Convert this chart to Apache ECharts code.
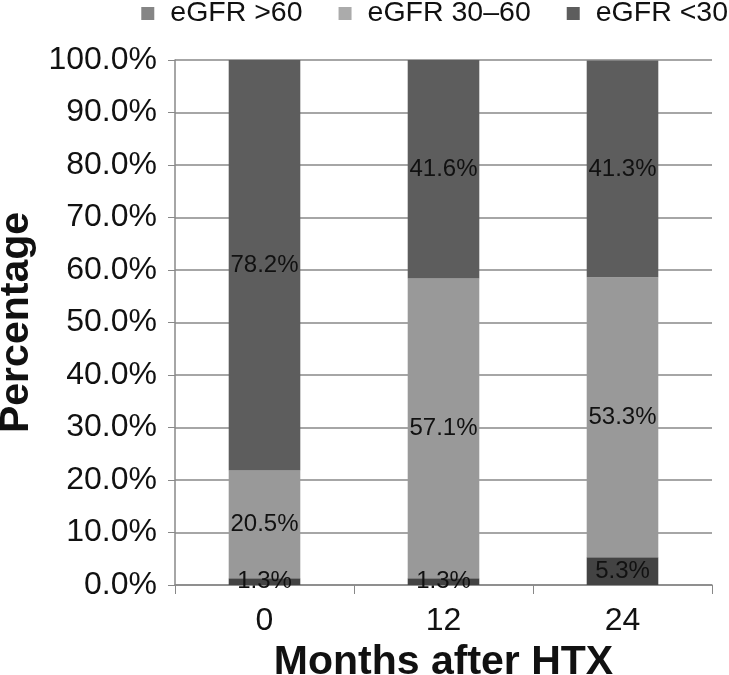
<!DOCTYPE html>
<html>
<head>
<meta charset="utf-8">
<script src="https://cdn.jsdelivr.net/npm/echarts@6/dist/echarts.min.js"></script>
<style>html,body{margin:0;padding:0;background:#fff}#c{width:729px;height:675px}</style>
</head>
<body>
<div id="c"></div>
<script>
var categories = ['0', '12', '24'];
var seriesNames = ['eGFR >60', 'eGFR 30\u201360', 'eGFR <30'];
var above60 = [1.3, 1.3, 5.3];
var between30and60 = [20.5, 57.1, 53.3];
var below30 = [78.2, 41.6, 41.3];
var yTicks = [0, 10, 20, 30, 40, 50, 60, 70, 80, 90, 100];

var font = 'Liberation Sans, Arial, sans-serif';
var barColors = ['#434343', '#999999', '#5d5d5d'];
var legendColors = ['#858585', '#ababab', '#5d5d5d'];
var chart = echarts.init(document.getElementById('c'));
function mk(name, data, color) {
  return {
    name: name, type: 'bar', stack: 'all', data: data,
    barCategoryGap: '60%',
    itemStyle: { color: color },
    label: {
      show: true, position: 'inside', color: '#111', fontFamily: font, fontSize: 24,
      formatter: function (p) { return p.value.toFixed(1) + '%'; }
    }
  };
}
chart.setOption({
  animation: false,
  backgroundColor: '#fff',
  legend: {
    top: -1, right: 1, padding: 0, itemWidth: 13, itemHeight: 13, itemGap: 36,
    textStyle: { fontFamily: font, fontSize: 28.5, color: '#111', padding: [0, 0, 0, 11] },
    icon: 'rect',
    data: seriesNames.map(function (n, i) { return { name: n, itemStyle: { color: legendColors[i] } }; })
  },
  grid: { left: 175, right: 17, top: 60, bottom: 90, outerBoundsMode: 'none', containLabel: false },
  xAxis: {
    type: 'category', data: categories,
    name: 'Months after HTX', nameLocation: 'middle', nameGap: 46,
    nameTextStyle: { fontFamily: font, fontSize: 41, fontWeight: 'bold', color: '#111' },
    axisLine: { lineStyle: { color: '#888', width: 1.5 } },
    axisTick: { show: true, length: 9, lineStyle: { color: '#888' } },
    axisLabel: { fontFamily: font, fontSize: 32, color: '#111', margin: 20 }
  },
  yAxis: {
    type: 'value', min: 0, max: 100, interval: 10,
    name: 'Percentage', nameLocation: 'middle', nameGap: 138, nameRotate: 90,
    nameTextStyle: { fontFamily: font, fontSize: 41, fontWeight: 'bold', color: '#111' },
    axisLine: { show: true, lineStyle: { color: '#888', width: 1.5 } },
    axisTick: { show: true, length: 7, lineStyle: { color: '#888' } },
    splitLine: { lineStyle: { color: '#888', width: 1.5 } },
    axisLabel: {
      fontFamily: font, fontSize: 32, color: '#111', margin: 18,
      formatter: function (v) { return yTicks.indexOf(v) >= 0 ? v.toFixed(1) + '%' : ''; }
    }
  },
  series: [
    mk(seriesNames[0], above60, barColors[0]),
    mk(seriesNames[1], between30and60, barColors[1]),
    mk(seriesNames[2], below30, barColors[2])
  ]
});
</script>
</body>
</html>
